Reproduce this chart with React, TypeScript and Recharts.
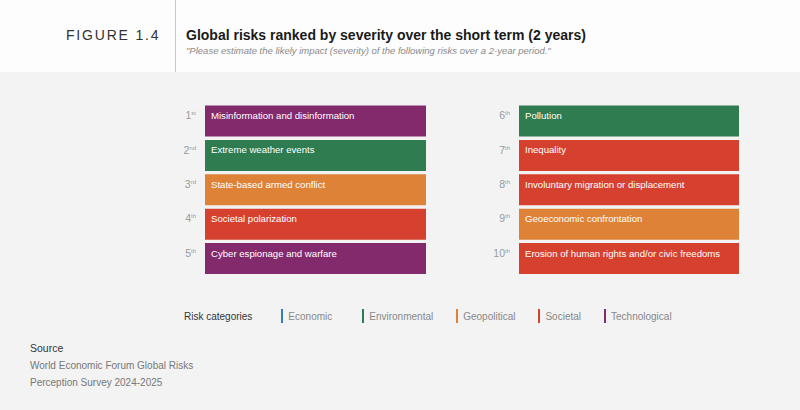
import React from 'react';
import { BarChart, Bar, XAxis, YAxis, Cell, LabelList } from 'recharts';

const leftRanks = ['1', '2', '3', '4', '5'];
const leftSuffixes = ['st', 'nd', 'rd', 'th', 'th'];
const leftRisks = [
    'Misinformation and disinformation',
    'Extreme weather events',
    'State-based armed conflict',
    'Societal polarization',
    'Cyber espionage and warfare',
];
const leftCategories = ['Technological', 'Environmental', 'Geopolitical', 'Societal', 'Technological'];

const rightRanks = ['6', '7', '8', '9', '10'];
const rightSuffixes = ['th', 'th', 'th', 'th', 'th'];
const rightRisks = [
    'Pollution',
    'Inequality',
    'Involuntary migration or displacement',
    'Geoeconomic confrontation',
    'Erosion of human rights and/or civic freedoms',
];
const rightCategories = ['Environmental', 'Societal', 'Societal', 'Geopolitical', 'Societal'];

// every box runs the full width of its column
const barLength = [1, 1, 1, 1, 1];

const legendCategories = ['Economic', 'Environmental', 'Geopolitical', 'Societal', 'Technological'];

const categoryColors: Record<string, string> = {
    Economic: '#2f7cc4',
    Environmental: '#2e7c50',
    Geopolitical: '#de8238',
    Societal: '#d5402f',
    Technological: '#832a6c',
};

const FONT = '"Liberation Sans", Arial, Helvetica, sans-serif';

interface ColumnProps {
    ranks: string[];
    suffixes: string[];
    risks: string[];
    categories: string[];
    left: number;
    boxWidth: number;
}

const RankTick = (props: any) => {
    const { x, y, payload, suffixes, ranks } = props;
    const idx = ranks.indexOf(payload.value);
    return (
        <text x={x} y={y - 2} textAnchor="end" fill="#9a9a9a" fontFamily={FONT} fontSize={10.5}>
            <tspan>{payload.value}</tspan>
            <tspan fontSize={6} dy={-4}>{suffixes[idx]}</tspan>
        </text>
    );
};

const renderRiskLabel = (props: any) => {
    const { x, y, value } = props;
    return (
        <text x={x + 6} y={y + 13.5} fill="#ffffff" fontFamily={FONT} fontSize={9.6}>
            {value}
        </text>
    );
};

function RiskColumn({ ranks, suffixes, risks, categories, left, boxWidth }: ColumnProps) {
    const data = ranks.map((rank, i) => ({
        rank,
        risk: risks[i],
        category: categories[i],
        value: barLength[i],
    }));
    const axisWidth = 40;
    return (
        <div style={{ position: 'absolute', left, top: 103.5 }}>
            <BarChart
                width={axisWidth + boxWidth}
                height={172}
                data={data}
                layout="vertical"
                margin={{ top: 0, right: 0, bottom: 0, left: 0 }}
                barCategoryGap={1.5}
            >
                <XAxis type="number" domain={[0, 1]} hide />
                <YAxis
                    type="category"
                    dataKey="rank"
                    width={axisWidth}
                    axisLine={false}
                    tickLine={false}
                    tickSize={0}
                    tickMargin={9}
                    interval={0}
                    tick={<RankTick suffixes={suffixes} ranks={ranks} />}
                />
                <Bar dataKey="value" isAnimationActive={false}>
                    {data.map((d) => (
                        <Cell key={d.rank} fill={categoryColors[d.category]} />
                    ))}
                    <LabelList dataKey="risk" content={renderRiskLabel} />
                </Bar>
            </BarChart>
        </div>
    );
}

export default function App() {
    return (
        <div
            style={{
                position: 'relative',
                width: 800,
                height: 410,
                background: '#f3f3f3',
                fontFamily: FONT,
                overflow: 'hidden',
            }}
        >
            <style>{'body{margin:0}'}</style>
            <div style={{ position: 'absolute', left: 0, top: 0, width: 800, height: 72, background: '#fdfdfd' }} />
            <div style={{ position: 'absolute', left: 175, top: 0, width: 1, height: 72, background: '#c8c8c8' }} />
            <div
                style={{
                    position: 'absolute',
                    left: 66,
                    top: 26,
                    fontSize: 14,
                    letterSpacing: 1.8,
                    color: '#333',
                    lineHeight: '18px',
                }}
            >
                FIGURE 1.4
            </div>
            <div
                style={{
                    position: 'absolute',
                    left: 186,
                    top: 26,
                    fontSize: 14,
                    fontWeight: 'bold',
                    color: '#1a1a1a',
                    lineHeight: '18px',
                }}
            >
                Global risks ranked by severity over the short term (2 years)
            </div>
            <div
                style={{
                    position: 'absolute',
                    left: 186,
                    top: 45,
                    fontSize: 9.5,
                    fontStyle: 'italic',
                    color: '#8a8a8a',
                    lineHeight: '12px',
                }}
            >
                "Please estimate the likely impact (severity) of the following risks over a 2-year period."
            </div>

            <RiskColumn
                ranks={leftRanks}
                suffixes={leftSuffixes}
                risks={leftRisks}
                categories={leftCategories}
                left={165}
                boxWidth={221}
            />
            <RiskColumn
                ranks={rightRanks}
                suffixes={rightSuffixes}
                risks={rightRisks}
                categories={rightCategories}
                left={479}
                boxWidth={220}
            />

            <div
                style={{
                    position: 'absolute',
                    left: 184,
                    top: 309,
                    height: 14,
                    display: 'flex',
                    alignItems: 'center',
                    fontSize: 10,
                    color: '#333',
                }}
            >
                <span style={{ marginRight: 29 }}>Risk categories</span>
                {legendCategories.map((c, i) => (
                    <span
                        key={c}
                        style={{ display: 'flex', alignItems: 'center', marginRight: i === 0 ? 30 : 23, color: '#888' }}
                    >
                        <span
                            style={{
                                display: 'inline-block',
                                width: 2,
                                height: 14,
                                background: categoryColors[c],
                                marginRight: 5,
                            }}
                        />
                        {c}
                    </span>
                ))}
            </div>

            <div style={{ position: 'absolute', left: 30, top: 341, fontSize: 10.5, color: '#333', lineHeight: '14px' }}>
                Source
            </div>
            <div style={{ position: 'absolute', left: 30, top: 357, fontSize: 10, color: '#777', lineHeight: '17px' }}>
                World Economic Forum Global Risks
                <br />
                Perception Survey 2024-2025
            </div>
        </div>
    );
}
